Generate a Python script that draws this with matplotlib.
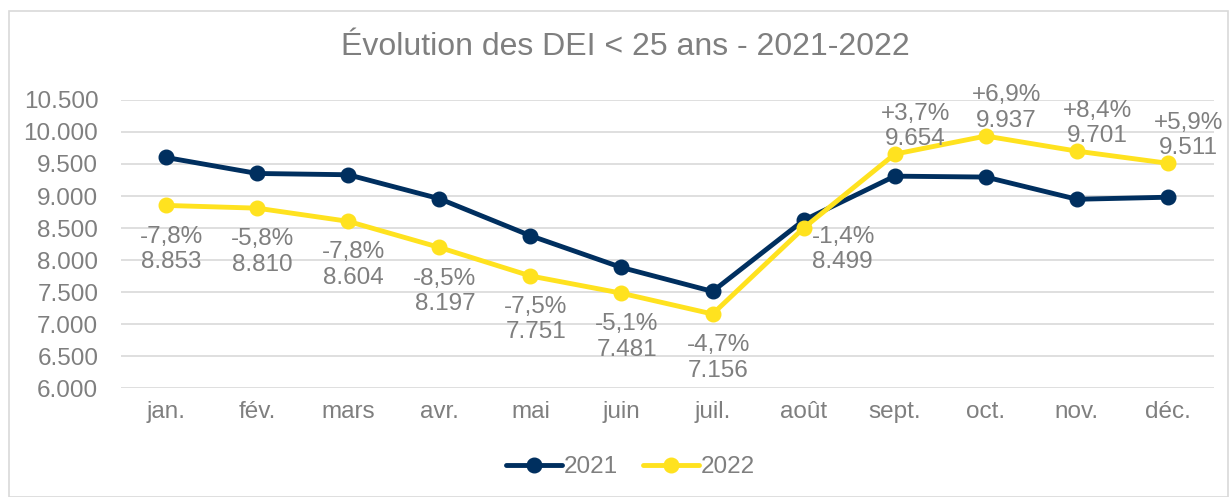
import matplotlib
matplotlib.use("Agg")
import matplotlib.pyplot as plt
from matplotlib.patches import Rectangle

months = ["jan.", "fév.", "mars", "avr.", "mai", "juin", "juil.", "août", "sept.", "oct.", "nov.", "déc."]
v2021 = [9602, 9352, 9332, 8958, 8380, 7883, 7509, 8620, 9310, 9296, 8949, 8981]
v2022 = [8853, 8810, 8604, 8197, 7751, 7481, 7156, 8499, 9654, 9937, 9701, 9511]
pct = ["-7,8%", "-5,8%", "-7,8%", "-8,5%", "-7,5%", "-5,1%", "-4,7%", "-1,4%", "+3,7%", "+6,9%", "+8,4%", "+5,9%"]
yticks = [6000, 6500, 7000, 7500, 8000, 8500, 9000, 9500, 10000, 10500]

plt.rcParams['font.family'] = ['Liberation Sans', 'DejaVu Sans']
grey = "#7F7F7F"
navy = "#002F5F"
yellow = "#FFE21F"
fs = 17.5

fig = plt.figure(figsize=(12.31, 4.97), dpi=100)
fig.patches.append(Rectangle((9/1231, 0), (1228-9)/1231, 1 - 11/497, transform=fig.transFigure,
                             fill=False, edgecolor="#D9D9D9", linewidth=1.2))
ax = fig.add_axes([0.0979, 0.2193, 0.8879, 0.5795])
x = list(range(len(months)))
ax.plot(x, v2021, color=navy, lw=3.5, marker="o", ms=10.5, label="2021", zorder=3, solid_capstyle="round")
ax.plot(x, v2022, color=yellow, lw=3.5, marker="o", ms=10.5, label="2022", zorder=4, solid_capstyle="round")

ax.set_xlim(-0.5, len(months) - 0.5)
ax.set_ylim(6000, 10500)
ax.set_yticks(yticks)
ax.set_yticklabels([f"{v:,}".replace(",", ".") for v in yticks])
ax.set_xticks(x)
ax.set_xticklabels(months)
ax.tick_params(axis="both", length=0, labelsize=fs, colors=grey)
ax.tick_params(axis="y", pad=16)
ax.tick_params(axis="x", pad=9)
ax.grid(axis="y", color="#D9D9D9", lw=1.2)
ax.set_axisbelow(True)
for s in ax.spines.values():
    s.set_visible(False)

ls = 1.2
for i, (v, p) in enumerate(zip(v2022, pct)):
    txt = p + "\n" + f"{v:,}".replace(",", ".")
    if i <= 6:
        ax.annotate(txt, (i, v), xytext=(4, -14.5), textcoords="offset points", ha="center", va="top",
                    fontsize=fs, color=grey, linespacing=ls, zorder=5)
    elif i == 7:
        ax.annotate(txt, (i, v), xytext=(6, -15.5), textcoords="offset points", ha="left", va="center",
                    fontsize=fs, color=grey, linespacing=ls, zorder=5)
    else:
        ax.annotate(txt, (i, v), xytext=(15, 3), textcoords="offset points", ha="center", va="bottom",
                    fontsize=fs, color=grey, linespacing=ls, zorder=5)

fig.text(0.508, 0.905, "Évolution des DEI < 25 ans - 2021-2022", ha="center", va="center",
         fontsize=23, color=grey)

leg = fig.legend(loc="center", bbox_to_anchor=(0.5122, 0.06), ncol=2, frameon=False, fontsize=fs,
                 handlelength=2.3, columnspacing=1.0, handletextpad=0.1)
for t in leg.get_texts():
    t.set_color(grey)

fig.savefig("out.png", dpi=100)
